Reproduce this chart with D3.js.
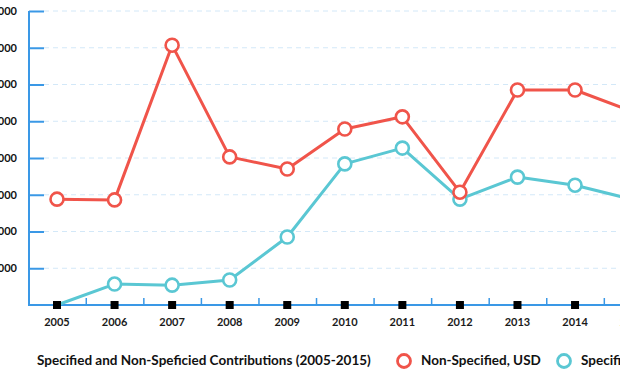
<!DOCTYPE html>
<html><head><meta charset="utf-8">
<script src="https://cdn.jsdelivr.net/npm/d3@7"></script>
<style>
html,body{margin:0;padding:0;background:#fff;}
svg{display:block;font-family:Lato,"Open Sans",sans-serif;}
</style></head>
<body>
<svg id="c" width="620" height="380"></svg>
<script>
const years = [2005,2006,2007,2008,2009,2010,2011,2012,2013,2014,2015];
const nonSpecified = [2.88,2.86,7.07,4.03,3.70,4.79,5.12,3.07,5.85,5.85,5.26];
const specified    = [0,0.57,0.54,0.68,1.85,3.84,4.27,2.88,3.48,3.26,2.87];
const yTicks = [1,2,3,4,5,6,7,8];
const yTickLabels = ["1,000,000","2,000,000","3,000,000","4,000,000","5,000,000","6,000,000","7,000,000","8,000,000"];
const legendTitle = "Specified and Non-Speficied Contributions (2005-2015)";
const seriesNames = ["Non-Specified, USD","Specified, USD"];

const RED = "#F0544A", BLUE = "#5AC7D3", AXIS = "#3A98E6";
const svg = d3.select("#c");
const x = d3.scaleLinear().domain([2005,2015]).range([57,632.6]);
const y = d3.scaleLinear().domain([0,8]).range([305,11]);

// grid
svg.append("g").selectAll("line").data(yTicks).join("line")
  .attr("x1",44).attr("x2",640).attr("y1",d=>y(d)).attr("y2",d=>y(d))
  .attr("stroke","#d3e8f8").attr("stroke-width",1).attr("stroke-dasharray","5,4");

// y axis
const ya = svg.append("g").attr("transform","translate(29,0)")
  .call(d3.axisRight(y).tickValues(yTicks).tickSize(15).tickFormat(""));
ya.select(".domain").attr("stroke",AXIS).attr("stroke-width",2).attr("d","M0,"+y(8)+"V"+y(0));
ya.selectAll(".tick line").attr("stroke",AXIS).attr("stroke-width",2);
svg.append("g").selectAll("text").data(yTicks).join("text")
  .attr("x",17).attr("y",d=>y(d)).attr("dy","0.35em").attr("text-anchor","end")
  .attr("font-size",11).attr("font-weight",700).attr("fill","#111")
  .text((d,i)=>yTickLabels[i]);

// x axis
const mids = d3.range(2004.5,2016,1);
const xa = svg.append("g").attr("transform","translate(0,305)")
  .call(d3.axisBottom(x).tickValues(mids).tickSize(-7).tickFormat(""));
xa.select(".domain").attr("stroke",AXIS).attr("stroke-width",2).attr("d","M28,0H640");
xa.selectAll(".tick line").attr("stroke",AXIS).attr("stroke-width",1.5);

// lines
const line = d3.line().x((d,i)=>x(years[i])).y(d=>y(d));
function series(vals,color){
  svg.append("path").datum(vals).attr("d",line).attr("fill","none")
    .attr("stroke",color).attr("stroke-width",3).attr("stroke-linejoin","round");
}
series(nonSpecified,RED);
series(specified,BLUE);
function dots(vals,color){
  svg.append("g").selectAll("circle").data(vals.map((v,i)=>({v,yr:years[i]})).filter(d=>d.v>0)).join("circle")
    .attr("cx",d=>x(d.yr)).attr("cy",d=>y(d.v)).attr("r",6.5)
    .attr("fill","#fff").attr("stroke",color).attr("stroke-width",2.6);
}
dots(specified,BLUE);
dots(nonSpecified,RED);

// black markers + year labels
svg.append("g").selectAll("rect").data(years).join("rect")
  .attr("x",d=>x(d)-4).attr("y",301).attr("width",8).attr("height",8).attr("fill","#000");
svg.append("g").selectAll("text").data(years).join("text")
  .attr("x",d=>x(d)).attr("y",326).attr("text-anchor","middle")
  .attr("font-size",11).attr("font-weight",700).attr("fill","#1a1a1a").text(d=>d);

// legend
svg.append("text").attr("x",37).attr("y",365).attr("font-size",13.5).attr("font-weight",700)
  .attr("fill","#111").text(legendTitle);
const lg = [{c:RED,x:404,t:seriesNames[0]},{c:BLUE,x:564,t:seriesNames[1]}];
lg.forEach(l=>{
  svg.append("circle").attr("cx",l.x).attr("cy",361).attr("r",6.5).attr("fill","#fff")
    .attr("stroke",l.c).attr("stroke-width",2.8);
  svg.append("text").attr("x",l.x+17).attr("y",365).attr("font-size",13.5).attr("font-weight",700)
    .attr("fill","#111").text(l.t);
});
</script>
</body></html>
